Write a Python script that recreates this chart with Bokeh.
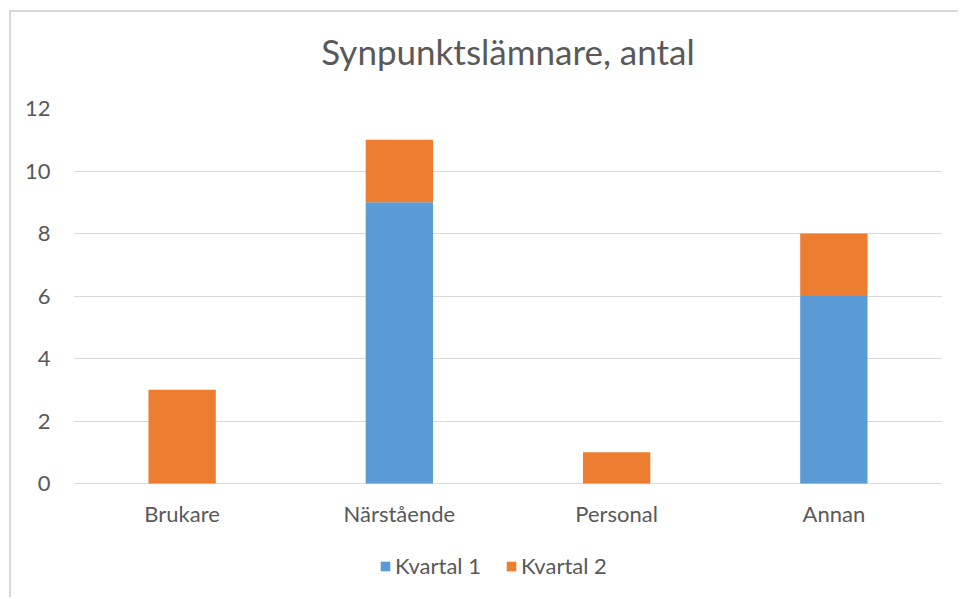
from bokeh.plotting import figure
from bokeh.models import Legend, LegendItem, Title, ColumnDataSource, Range1d
from bokeh.core.properties import value
from bokeh.embed import file_html
from bokeh.resources import INLINE

categories = ["Brukare", "Närstående", "Personal", "Annan"]
kvartal1 = [0, 9, 0, 6]
kvartal2 = [3, 2, 1, 2]
series = ["Kvartal 1", "Kvartal 2"]
colors = ["#5B9BD5", "#ED7D31"]
title_text = "Synpunktslämnare, antal"
y_ticks = [0, 2, 4, 6, 8, 10, 12]

FONT = "Lato"
TXT = "#595959"

# layout: frame extends below the value axis so the legend fits inside it
FRAME_H = 489
PX_PER_UNIT = 31.25
y_start = 12 - FRAME_H / PX_PER_UNIT

source = ColumnDataSource(data={"cat": categories, "Kvartal 1": kvartal1, "Kvartal 2": kvartal2,
                                "zero": [0] * len(categories)})

p = figure(x_range=categories, y_range=Range1d(y_start, 12),
           frame_width=869, frame_height=FRAME_H, x_axis_location=None,
           output_backend="svg", toolbar_location=None,
           min_border_left=62, min_border_right=16, min_border_top=96, min_border_bottom=0)
p.x_range.range_padding = 0
p.styles = {"border-left": "2px solid #d9d9d9", "border-top": "2px solid #d9d9d9",
            "margin-left": "9px", "margin-top": "10px"}

renderers = p.vbar_stack(series, x="cat", width=0.31, color=colors, source=source, line_color=None)

# category labels under the zero line
p.text(x="cat", y="zero", text="cat", source=source, y_offset=30,
       text_align="center", text_baseline="middle", text_font=value(FONT),
       text_font_size="22px", text_color=TXT)

p.title = Title(text=title_text, align="center", text_font=FONT, text_font_size="35px",
                text_color=TXT, text_font_style="normal", standoff=0, offset=-21)
p.add_layout(Title(text=" ", text_font_size="1px", standoff=34), "above")

p.outline_line_color = None
p.xgrid.grid_line_color = None
p.ygrid.grid_line_color = "#d9d9d9"
p.ygrid.grid_line_width = 1
p.yaxis.ticker = y_ticks
p.ygrid.ticker = y_ticks
ax = p.yaxis[0]
ax.axis_line_color = None
ax.major_tick_line_color = None
ax.minor_tick_line_color = None
ax.major_label_text_font = FONT
ax.major_label_text_font_size = "22px"
ax.major_label_text_color = TXT
ax.major_label_standoff = 17

items = [LegendItem(label=s, renderers=[r]) for s, r in zip(series, renderers)]
legend = Legend(items=items, orientation="horizontal", location=(306, 18),
                padding=0, margin=0, spacing=24, label_standoff=4,
                glyph_width=12, glyph_height=12, label_height=24, label_text_font=FONT,
                label_text_font_size="22px", label_text_color=TXT,
                border_line_color=None, background_fill_alpha=0)
p.add_layout(legend, "center")

open("out.html", "w").write(file_html(p, INLINE))
